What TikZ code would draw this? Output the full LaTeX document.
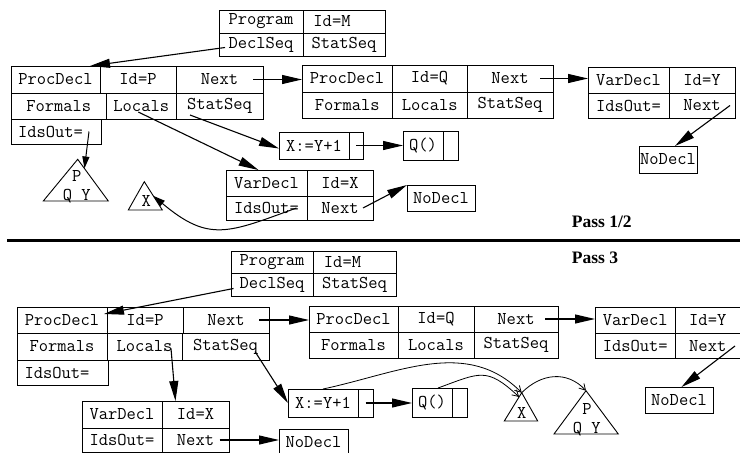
\documentclass[tikz,border=0pt]{standalone}
\usepackage{fontspec}
\newfontfamily\passfont{Liberation Serif}
\usetikzlibrary{arrows.meta,calc}

% one table cell: name, left, top, right, bottom, text
\newcommand\mkcell[6]{\node[cell, minimum width={#4pt-#2pt}, minimum height={#5pt-#3pt}] (#1) at (#2,#3) {#6};}

\tikzset{
  cellfont/.style={font=\ttfamily\fontsize{18}{19}\selectfont},
  cell/.style={draw, line width=0.9pt, anchor=north west, inner sep=0pt, outer sep=0pt, cellfont},
  big/.style={line width=1.1pt, -{Triangle[length=20pt,width=9pt]}},
  small/.style={line width=1pt, -{Triangle[length=12pt,width=7pt]}},
  open/.style={line width=0.8pt, -{Straight Barb[length=6pt,width=7pt]}},
  tri/.style={line width=0.9pt, line join=miter},
  trilabel/.style={cellfont, anchor=base, inner sep=0pt},
  passlabel/.style={font=\passfont\bfseries\fontsize{17.5}{20}\selectfont, anchor=base west, inner sep=0pt},
}

\begin{document}
\begin{tikzpicture}[x=1pt,y=-1pt]
\useasboundingbox (0,0) rectangle (740,453);

% ---------------- Pass 1/2 ----------------
\mkcell{p1prog}{219}{10}{303}{33}{Program}
\mkcell{p1id}{303}{10}{385}{33}{\hspace*{-24pt}Id=M}
\mkcell{p1decl}{219}{33}{303}{56}{DeclSeq}
\mkcell{p1stat}{303}{33}{385}{56}{StatSeq}

\mkcell{p1pd}{11}{66}{100}{93}{ProcDecl}
\mkcell{p1pid}{100}{66}{176}{93}{Id=P}
\mkcell{p1pnext}{176}{66}{263}{93}{Next}
\mkcell{p1pform}{11}{93}{106.5}{119}{Formals}
\mkcell{p1ploc}{106.5}{93}{176}{119}{Locals}
\mkcell{p1pstat}{176}{93}{263}{119}{StatSeq}
\mkcell{p1pids}{11}{119}{101}{144}{\hspace*{-11pt}IdsOut=}

\mkcell{p1qd}{302}{65}{392}{92}{ProcDecl}
\mkcell{p1qid}{392}{65}{467}{92}{Id=Q}
\mkcell{p1qnext}{467}{65}{553}{92}{Next}
\mkcell{p1qform}{302}{92}{392.5}{118}{Formals}
\mkcell{p1qloc}{392.5}{92}{467}{118}{Locals}
\mkcell{p1qstat}{467}{92}{553}{118}{StatSeq}

\mkcell{p1yd}{588}{67}{669}{93}{VarDecl}
\mkcell{p1yid}{669}{67}{735}{93}{Id=Y}
\mkcell{p1yids}{588}{93}{669}{118}{IdsOut=}
\mkcell{p1ynext}{669}{93}{735}{118}{Next}
\mkcell{p1ynd}{639}{146}{697}{173}{NoDecl}

\mkcell{p1asg}{279}{132}{349}{159}{X:=Y+1}
\mkcell{p1asgn}{349}{132}{363}{159}{}
\mkcell{p1q}{403}{131}{443}{160}{Q()}
\mkcell{p1qn}{443}{131}{458}{160}{}

\mkcell{p1xd}{226}{170}{307}{196}{VarDecl}
\mkcell{p1xid}{307}{170}{373}{196}{Id=X}
\mkcell{p1xids}{226}{196}{307}{220}{IdsOut=}
\mkcell{p1xnext}{307}{196}{373}{220}{Next}
\mkcell{p1xnd}{407}{185}{475}{211}{NoDecl}

% name-list triangles
\coordinate (t1a) at (77.7,159.3);
\coordinate (t1l) at (43.3,201);
\coordinate (t1r) at (108.3,201);
\draw[tri] (t1a) -- (t1l) -- (t1r) -- cycle;
\node[trilabel] (t1p) at (76.7,181.7) {P};
\node[trilabel] (t1qy) at (76.7,200) {Q Y};

\coordinate (x1a) at (144.3,181.7);
\coordinate (x1l) at (128.3,210);
\coordinate (x1r) at (162.3,210);
\draw[tri] (x1a) -- (x1l) -- (x1r) -- cycle;
\node[trilabel] (x1x) at (146.2,206.7) {X};

% pointers
\draw[big] ([shift={(6pt,-3pt)}]p1decl.west) -- ([xshift=-10pt]p1pd.north east);
\coordinate (a1) at ([xshift=-10pt]p1pnext.east);
\draw[big] (a1) -- (a1 -| p1qd.west);
\coordinate (a2) at ([xshift=-13pt]p1qnext.east);
\draw[big] (a2) -- (a2 -| p1yd.west);
\draw[big] ([xshift=-5pt]p1ynext.east) -- ([xshift=7pt]p1ynd.north);
\draw[big] ([shift={(-3pt,-6pt)}]p1ploc.center) -- ([xshift=-8pt]p1xd.north);
\draw[big] ([shift={(-29.5pt,-9pt)}]p1pstat.center) -- ([yshift=-3pt]p1asg.west);
\draw[small] ([xshift=33pt]p1pids.center) -- ($(t1a)!0.22!(t1r)$);
\coordinate (a3) at (p1asgn.center);
\draw[big] (a3) -- (a3 -| p1q.west);
\draw[big] ([xshift=23pt]p1xnext.center) -- (p1xnd.north west);
\draw[small] ([xshift=30pt]p1xids.center) to[out=200,in=-40,looseness=1.3] ($(x1a)!0.5!(x1r)$);

% separator and pass titles
\coordinate (sepl) at (7,240.5);
\coordinate (sepr) at (740,240.5);
\draw[line width=3pt] (sepl) -- (sepr);
\node[passlabel] (pass12) at (571.7,227.3) {Pass 1/2};
\node[passlabel] (pass3) at (571.7,263.3) {Pass 3};

% ---------------- Pass 3 ----------------
\mkcell{p3prog}{231}{251}{313}{273}{Program}
\mkcell{p3id}{313}{251}{396}{273}{\hspace*{-24pt}Id=M}
\mkcell{p3decl}{231}{273}{313}{296}{DeclSeq}
\mkcell{p3stat}{313}{273}{396}{296}{StatSeq}

\mkcell{p3pd}{17}{307}{107}{333}{ProcDecl}
\mkcell{p3pid}{107}{307}{183}{333}{Id=P}
\mkcell{p3pnext}{183}{307}{269}{333}{Next}
\mkcell{p3pform}{17}{333}{107}{360}{Formals}
\mkcell{p3ploc}{107}{333}{182}{360}{Locals}
\mkcell{p3pstat}{182}{333}{269}{360}{StatSeq}
\mkcell{p3pids}{17}{360}{108}{385}{\hspace*{-11pt}IdsOut=}

\mkcell{p3qd}{309}{306}{398}{332}{ProcDecl}
\mkcell{p3qid}{398}{306}{474}{332}{Id=Q}
\mkcell{p3qnext}{474}{306}{558}{332}{Next}
\mkcell{p3qform}{309}{332}{398}{358}{Formals}
\mkcell{p3qloc}{398}{332}{474}{358}{Locals}
\mkcell{p3qstat}{474}{332}{558}{358}{StatSeq}

\mkcell{p3yd}{595}{307}{675.5}{333.5}{VarDecl}
\mkcell{p3yid}{675.5}{307}{740}{333.5}{Id=Y}
\mkcell{p3yids}{595}{333.5}{675.5}{358.5}{IdsOut=}
\mkcell{p3ynext}{675.5}{333.5}{740}{358.5}{Next}
\mkcell{p3ynd}{645}{387}{713}{413}{NoDecl}

\mkcell{p3asg}{288}{389}{358}{417}{X:=Y+1}
\mkcell{p3asgn}{358}{389}{373}{417}{}
\mkcell{p3q}{412}{388}{452}{417}{Q()}
\mkcell{p3qn}{452}{388}{467}{417}{}

\mkcell{p3xd}{82}{401}{162}{428}{VarDecl}
\mkcell{p3xid}{162}{401}{229}{428}{Id=X}
\mkcell{p3xids}{82}{428}{162}{452}{IdsOut=}
\mkcell{p3xnext}{162}{428}{229}{452}{Next}
\mkcell{p3xnd}{279}{429}{348}{456}{NoDecl}

\coordinate (x3a) at (521.7,392.7);
\coordinate (x3l) at (504.3,421);
\coordinate (x3r) at (537.7,421);
\draw[tri] (x3a) -- (x3l) -- (x3r) -- cycle;
\node[trilabel] (x3x) at (521.7,418.3) {X};

\coordinate (t3a) at (586,390.7);
\coordinate (t3l) at (554,434);
\coordinate (t3r) at (618.3,434);
\draw[tri] (t3a) -- (t3l) -- (t3r) -- cycle;
\node[trilabel] (t3p) at (587,414) {P};
\node[trilabel] (t3qy) at (586.7,433) {Q Y};

% pointers
\draw[big] ([shift={(2.5pt,-4pt)}]p3decl.west) -- ([shift={(-3pt,-7pt)}]p3pd.north east);
\coordinate (b1) at ([xshift=-10pt]p3pnext.east);
\draw[big] (b1) -- (b1 -| p3qd.west);
\coordinate (b2) at ([xshift=-13pt]p3qnext.east);
\draw[big] (b2) -- (b2 -| p3yd.west);
\draw[big] ([xshift=-5pt]p3ynext.east) -- ([xshift=2.5pt]p3ynd.north);
\draw[big] ([shift={(26.5pt,-2pt)}]p3ploc.center) -- ([xshift=13.5pt]p3xid.north west);
\draw[big] ([shift={(29.5pt,-5pt)}]p3pstat.center) -- (p3asg.west);
\coordinate (b3) at (p3asgn.center);
\draw[big] (b3) -- (b3 -| p3q.west);
\coordinate (b4) at ([xshift=24pt]p3xnext.center);
\draw[big] (b4) -- (b4 -| p3xnd.west);

% scope links
\draw[open] (p3asg.north) to[out=12,in=135] (x3a);
\draw[open] ([xshift=6pt]p3q.north) to[out=20,in=137,looseness=1.4] ($(x3a)!0.15!(x3l)$);
\draw[open] (x3a) to[out=45,in=133,looseness=1.1] (t3a);
\end{tikzpicture}
\end{document}
